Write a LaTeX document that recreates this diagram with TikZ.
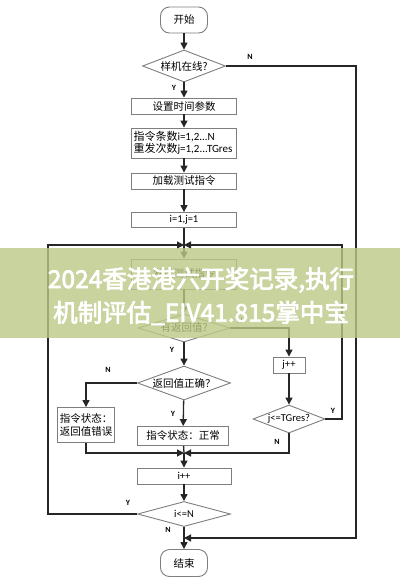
\documentclass[tikz,border=0pt]{standalone}
\usepackage{fontspec}
\setmainfont{Carlito}
\newfontfamily\cjk{Noto Sans CJK SC}
\newfontfamily\cjkb{Noto Sans CJK SC}[FakeBold=3]
\usetikzlibrary{shapes.geometric,arrows.meta}
\definecolor{linec}{HTML}{262626}
\definecolor{boxc}{HTML}{7E7E7E}
\definecolor{bannerc}{HTML}{BCC986}
\tikzset{
  conn/.style={draw=linec,line width=1.3pt},
  arr/.style={conn,-{Triangle[length=7pt,width=7pt]}},
  pbox/.style={draw=boxc,line width=0.9pt,fill=white,inner sep=1pt,font=\fontsize{10.5}{12.5}\selectfont},
  term/.style={pbox,rounded corners=9pt,minimum width=47pt,minimum height=26pt},
  dia/.style={diamond,draw=boxc,line width=0.9pt,fill=white,inner sep=0pt,aspect=3,font=\fontsize{10.5}{12.5}\selectfont},
  lab/.style={font=\fontsize{8}{9}\selectfont\bfseries,inner sep=0pt},
  bantext/.style={text=white,font=\cjkb\fontsize{24.5}{26}\selectfont,inner sep=0pt}
}
\begin{document}
\begin{tikzpicture}[x=1pt,y=-1pt]
\useasboundingbox (0,0) rectangle (400,587);
\fill[white] (0,0) rectangle (400,587);
% nodes
\node[term] (start) at (184,20) {\cjk 开始};
\node[dia,minimum width=83pt,minimum height=32pt] (d1) at (184,66) {\cjk 样机在线?};
\node[pbox,minimum width=105pt,minimum height=16pt] (b1) at (184,106) {\cjk 设置时间参数};
\node[pbox,minimum width=105pt,minimum height=30pt,align=left,text width=101pt,font=\fontsize{11}{13}\selectfont] (b2) at (184,143) {{\cjk 指令条数}i=1,2...N\\[-1pt]{\cjk 重发次数}j=1,2...TGres};
\node[pbox,minimum width=105pt,minimum height=16pt] (b3) at (184,181) {\cjk 加载测试指令};
\node[pbox,minimum width=105pt,minimum height=15pt] (b4) at (184,220) {i=1,j=1};
\node[pbox,minimum width=105pt,minimum height=30pt] (b5) at (184,274) {\cjk 发送测试指令};
\node[dia,minimum width=92pt,minimum height=28pt] (d2) at (184,328) {\cjk 有返回值?};
\node[dia,minimum width=93pt,minimum height=34pt] (d3) at (184,383) {\cjk 返回值正确？};
\node[pbox,minimum width=57pt,minimum height=35pt,align=left] (b6) at (86,425) {\cjk 指令状态：\\\cjk 返回值错误};
\node[pbox,minimum width=91pt,minimum height=19pt] (b7) at (183,436) {\cjk 指令状态：正常};
\node[pbox,minimum width=32pt,minimum height=16pt] (jpp) at (289,365) {j++};
\node[dia,minimum width=72pt,minimum height=28pt] (d4) at (289,419) {j<=TGres?};
\node[pbox,minimum width=94pt,minimum height=16pt] (ipp) at (184,476) {i++};
\node[dia,minimum width=93pt,minimum height=25pt] (d5) at (184,514) {i<=N};
\node[term,minimum height=27pt] (end) at (184,563) {\cjk 结束};
\coordinate (J1) at (184,245);
\coordinate (J2) at (184,453);
\coordinate (J3) at (184,538);
% connectors
\draw[arr] (start) -- (d1);
\draw[arr] (d1) -- (b1);
\draw[arr] (b1) -- (b2);
\draw[arr] (b2) -- (b3);
\draw[arr] (b3) -- (b4);
\draw[conn] (b4) -- (J1);
\draw[arr] (J1) -- (b5);
\draw[arr] (b5) -- (d2);
\draw[arr] (d2) -- (d3);
\draw[arr] (d2.east) -| (jpp);
\draw[arr] (jpp) -- (d4);
\draw[arr] (d3.west) -| (b6);
\draw[arr] (d3) -- (b7);
\draw[arr] (b6.south) |- (J2);
\draw[conn] (b7) -- (J2);
\draw[arr] (d4.south) |- (J2);
\draw[arr] (J2) -- (ipp);
\draw[arr] (ipp) -- (d5);
\draw[arr] (d5) -- (end);
\draw[arr] (d5.west) -- (48,514) -- (48,245) -- (J1);
\draw[arr] (d4.east) -- (342,419) -- (342,245) -- (J1);
\draw[arr] (d1.east) -- (356,66) -- (356,538) -- (J3);
% labels
\node[lab] at (250,57) {N};
\node[lab] at (174,88) {Y};
\node[lab] at (240,321) {N};
\node[lab] at (172,350) {Y};
\node[lab] at (108,370) {N};
\node[lab] at (173,414) {Y};
\node[lab] at (333,411) {Y};
\node[lab] at (277,442) {N};
\node[lab] at (128,503) {Y};
\node[lab] at (168,530) {N};
% banner overlay
\fill[bannerc,opacity=0.8] (0,248) rectangle (400,338);
\node[bantext] (t1) at (201,280) {2024香港港六开奖记录,执行};
\node[bantext] (t2) at (201,313) {机制评估\_EIV41.815掌中宝};
\end{tikzpicture}
\end{document}
